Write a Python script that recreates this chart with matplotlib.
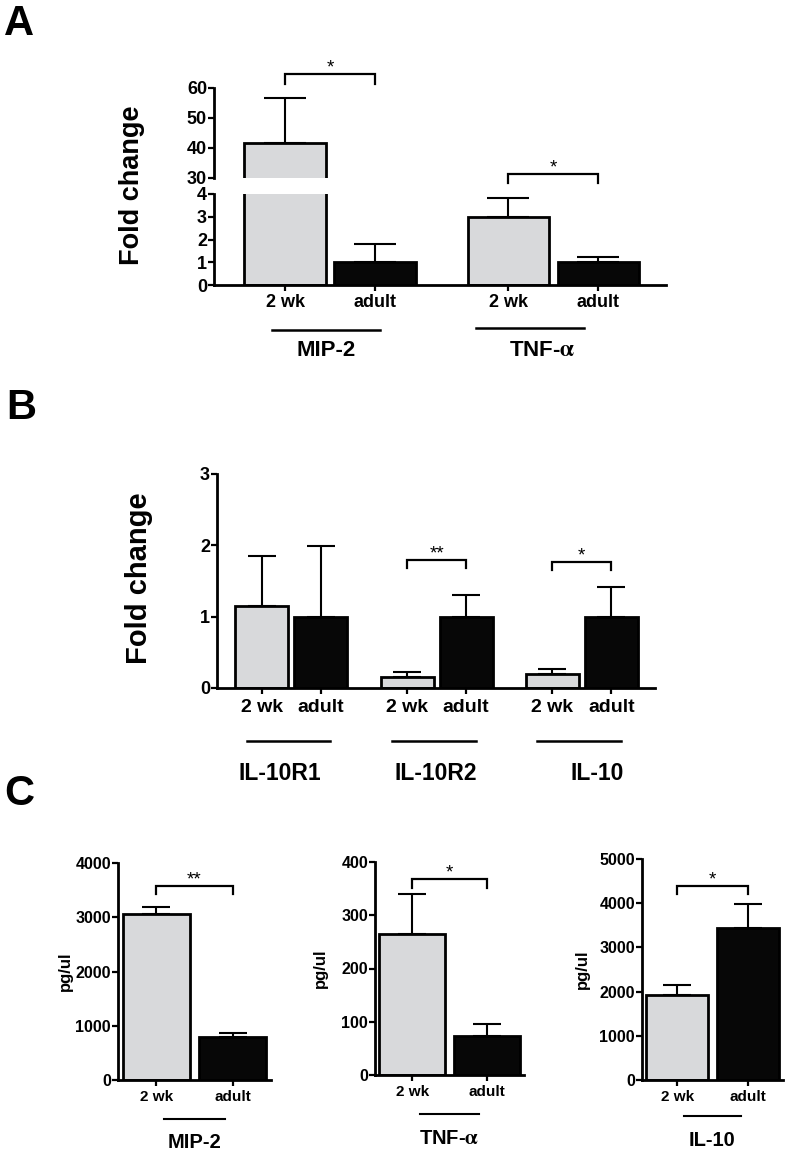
import matplotlib
matplotlib.use("Agg")
import matplotlib.pyplot as plt
import matplotlib.transforms as mtransforms
import numpy as np

# ---------------- data ----------------
age_labels = ["2 wk", "adult"]

a_groups = ["MIP-2", "TNF-$\\mathrm{\\alpha}$"]
a_2wk = [41.7, 3.0]
a_2wk_sem = [15.0, 0.83]
a_adult = [1.0, 1.0]
a_adult_sem = [0.80, 0.23]
a_sig = ["*", "*"]

b_groups = ["IL-10R1", "IL-10R2", "IL-10"]
b_2wk = [1.15, 0.16, 0.19]
b_2wk_sem = [0.70, 0.06, 0.08]
b_adult = [1.0, 1.0, 1.0]
b_adult_sem = [0.99, 0.30, 0.42]
b_sig = ["", "**", "*"]

c_groups = ["MIP-2", "TNF-$\\mathrm{\\alpha}$", "IL-10"]
c_2wk = [3060, 265, 1920]
c_2wk_sem = [125, 75, 230]
c_adult = [795, 73, 3440]
c_adult_sem = [70, 22, 550]
c_sig = ["**", "*", "*"]
c_ymax = [4000, 400, 5000]
c_ystep = [1000, 100, 1000]

# ---------------- style ----------------
W, H = 788, 1154
plt.rcParams["font.family"] = ["Liberation Sans", "DejaVu Sans"]
plt.rcParams["font.weight"] = "bold"
plt.rcParams["mathtext.fontset"] = "stix"

GRAY = "#d8d9db"
BLACK = "#070707"
LW = 2.0

fig = plt.figure(figsize=(W / 100, H / 100), dpi=100)


def axes_px(left, top, right, bottom):
    return fig.add_axes([left / W, 1 - bottom / H, (right - left) / W, (bottom - top) / H])


def fy(px):
    return 1 - px / H


def style_axes(ax, ysize, xsize, ypad=1, xpad=3):
    for s in ["top", "right"]:
        ax.spines[s].set_visible(False)
    for s in ["left", "bottom"]:
        ax.spines[s].set_linewidth(LW)
    ax.tick_params(axis="y", direction="out", length=4, width=1.6, labelsize=ysize, pad=ypad)
    ax.tick_params(axis="x", direction="out", length=4, width=1.6, labelsize=xsize, pad=xpad)
    for lab in ax.get_xticklabels() + ax.get_yticklabels():
        lab.set_fontweight("bold")


def draw_bars(ax, x2, xa, v2, s2, va, sa, width, capsize):
    ax.bar(x2, v2, width, color=GRAY, edgecolor="black", linewidth=LW, zorder=2)
    ax.bar(xa, va, width, color=BLACK, edgecolor="black", linewidth=LW, zorder=2)
    z = np.zeros(len(x2))
    ax.errorbar(x2, v2, yerr=[z, s2], fmt="none", ecolor="black", elinewidth=1.5,
                capsize=capsize, capthick=1.5, zorder=1)
    ax.errorbar(xa, va, yerr=[z, sa], fmt="none", ecolor="black", elinewidth=1.5,
                capsize=capsize, capthick=1.5, zorder=1)


def bracket(ax, x0, x1, y, leg, star, fs=13.5):
    ax.plot([x0, x0, x1, x1], [y - leg, y, y, y - leg], color="black", lw=1.6,
            clip_on=False, solid_joinstyle="miter", zorder=3)
    ax.annotate(star, xy=((x0 + x1) / 2, y), xytext=(0, -2), textcoords="offset points",
                ha="center", va="bottom", fontsize=fs, fontweight="normal",
                annotation_clip=False)


def group_line(ax, xc, half, ypx, lw=1.8):
    tr = mtransforms.blended_transform_factory(ax.transData, fig.transFigure)
    ax.plot([xc - half, xc + half], [fy(ypx), fy(ypx)], color="black", lw=lw,
            transform=tr, clip_on=False)


def group_label(ax, xc, ypx, text, fs):
    tr = mtransforms.blended_transform_factory(ax.transData, fig.transFigure)
    ax.text(xc, fy(ypx), text, transform=tr, ha="center", va="center",
            fontsize=fs, fontweight="bold")


# ---------------- Panel A (broken axis) ----------------
a_pitch = 2.48
a_x2 = np.arange(len(a_groups)) * a_pitch
a_xa = a_x2 + 1
a_width = 0.905
a_xlim = (-0.79, 4.23)

axA_top = axes_px(214, 88, 666, 178)
axA_bot = axes_px(214, 194, 666, 285)
for ax in (axA_top, axA_bot):
    draw_bars(ax, a_x2, a_xa, a_2wk, a_2wk_sem, a_adult, a_adult_sem, a_width, 15)
    ax.set_xlim(*a_xlim)

axA_top.set_ylim(30, 60)
axA_top.set_yticks([30, 40, 50, 60])
axA_bot.set_ylim(0, 4)
axA_bot.set_yticks([0, 1, 2, 3, 4])
axA_bot.set_xticks(np.concatenate([a_x2, a_xa]))
axA_bot.set_xticklabels(age_labels[:1] * len(a_groups) + age_labels[1:] * len(a_groups))
style_axes(axA_top, 13, 13)
style_axes(axA_bot, 13, 13, xpad=2.5)
axA_top.spines["bottom"].set_visible(False)
axA_top.set_xticks([])

bracket(axA_top, a_x2[0], a_xa[0], 64.7, 3.4, a_sig[0])
bracket(axA_bot, a_x2[1], a_xa[1], 4.88, 0.40, a_sig[1])

a_line_shift = [-0.05, -0.26]
a_label_shift = [-0.04, -0.12]
a_line_y = [330, 328]
for g, name in enumerate(a_groups):
    c = a_x2[g] + 0.5
    group_line(axA_bot, c + a_line_shift[g], 0.6, a_line_y[g])
    group_label(axA_bot, c + a_label_shift[g], 350, name, 16)

fig.text(132 / W, fy(185), "Fold change", rotation=90, ha="center", va="center",
         fontsize=19.5, fontweight="bold")

# ---------------- Panel B ----------------
b_pitch = 2.46
b_x2 = np.arange(len(b_groups)) * b_pitch
b_xa = b_x2 + 1
axB = axes_px(217, 474, 655, 688)
draw_bars(axB, b_x2, b_xa, b_2wk, b_2wk_sem, b_adult, b_adult_sem, 0.90, 10)
axB.set_xlim(-0.76, 6.66)
axB.set_ylim(0, 3)
axB.set_yticks([0, 1, 2, 3])
axB.set_xticks(np.concatenate([b_x2, b_xa]))
axB.set_xticklabels(age_labels[:1] * len(b_groups) + age_labels[1:] * len(b_groups))
style_axes(axB, 13, 14, xpad=4)
b_br_y = [0, 1.80, 1.77]
for g in range(len(b_groups)):
    if b_sig[g]:
        bracket(axB, b_x2[g], b_xa[g], b_br_y[g], 0.12, b_sig[g])
b_label_shift = [-0.19, -0.02, 0.26]
for g, name in enumerate(b_groups):
    c = b_x2[g] + 0.5
    group_line(axB, c - 0.05, 0.71, 741)
    group_label(axB, c + b_label_shift[g], 773, name, 16.5)

fig.text(139 / W, fy(578), "Fold change", rotation=90, ha="center", va="center",
         fontsize=21, fontweight="bold")

# ---------------- Panel C ----------------
c_boxes = [(118, 863, 271, 1080), (375, 862, 524, 1075), (642, 859, 783, 1080)]
c_ylab_x = [65, 320, 582]
c_line_y = [1119, 1114, 1116]
c_label_y = [1142, 1139, 1141]
c_br = [(3576, 147), (368, 17), (4389, 181)]
for i in range(len(c_groups)):
    ax = axes_px(*c_boxes[i])
    draw_bars(ax, [0], [1], [c_2wk[i]], [c_2wk_sem[i]], [c_adult[i]], [c_adult_sem[i]], 0.88, 10)
    ax.set_xlim(-0.5, 1.5)
    ax.set_ylim(0, c_ymax[i])
    ax.set_yticks(np.arange(0, c_ymax[i] + 1, c_ystep[i]))
    ax.set_xticks([0, 1])
    ax.set_xticklabels(age_labels)
    style_axes(ax, 11.5, 11, xpad=3)
    bracket(ax, 0, 1, c_br[i][0], c_br[i][1], c_sig[i])
    group_line(ax, 0.5, 0.4, c_line_y[i], lw=1.5)
    group_label(ax, 0.5, c_label_y[i], c_groups[i], 14.5)
    top = c_boxes[i][1]
    bot = c_boxes[i][3]
    fig.text(c_ylab_x[i] / W, fy((top + bot) / 2), "pg/ul", rotation=90, ha="center",
             va="center", fontsize=12, fontweight="bold")

# ---------------- panel letters ----------------
for letter, x, yb in [("A", 4, 35), ("B", 6, 419), ("C", 4, 805)]:
    fig.text(x / W, fy(yb), letter, ha="left", va="baseline", fontsize=30, fontweight="bold")

fig.savefig("out.png", dpi=100)
